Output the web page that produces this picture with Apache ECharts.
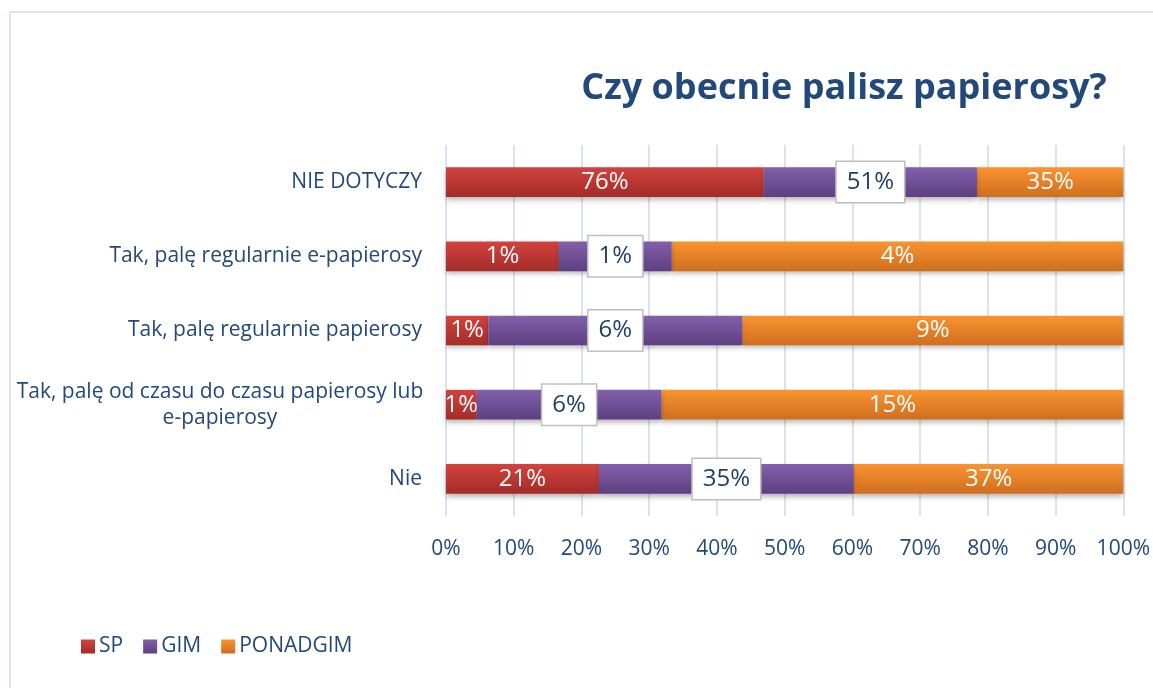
<!DOCTYPE html>
<html>
<head>
<meta charset="utf-8">
<script src="https://cdn.jsdelivr.net/npm/echarts@6/dist/echarts.min.js"></script>
<style>
  html, body { margin: 0; padding: 0; background: #fff; }
  #chart { width: 1153px; height: 688px; }
</style>
</head>
<body>
<div id="chart"></div>
<script>
// Answer categories, top to bottom
const categories = [
  'NIE DOTYCZY',
  'Tak, palę regularnie e-papierosy',
  'Tak, palę regularnie papierosy',
  'Tak, palę od czasu do czasu papierosy lub e-papierosy',
  'Nie'
];
// Percent of respondents per school level
const sp       = [76, 1, 1, 1, 21];
const gim      = [51, 1, 6, 6, 35];
const ponadgim = [35, 4, 9, 15, 37];
const seriesNames = ['SP', 'GIM', 'PONADGIM'];
const xTicks = [0, 10, 20, 30, 40, 50, 60, 70, 80, 90, 100];

const FONT = '"Open Sans", "Noto Sans", sans-serif';
const TEXT = '#22497A';

// Each row is drawn as a 100% stack of the three groups
const raw = [sp, gim, ponadgim];
const totals = categories.map((_, i) => sp[i] + gim[i] + ponadgim[i]);
const share = arr => arr.map((v, i) => v / totals[i] * 100);

function grad(top, bottom) {
  return new echarts.graphic.LinearGradient(0, 0, 0, 1, [
    { offset: 0, color: top },
    { offset: 1, color: bottom }
  ]);
}
const palette = [['#D3423E', '#A32C29'], ['#8260AC', '#5E3F80'], ['#FA9430', '#CF6E1F']];
const fills = palette.map(p => grad(p[0], p[1]));
const legendColors = palette.map(p => grad(p[0], p[1]));

const whiteLabel = {
  show: true,
  position: 'inside',
  color: '#fff',
  fontFamily: FONT,
  fontSize: 24
};
const boxedLabel = {
  show: true,
  position: 'inside',
  color: '#1F3F68',
  fontFamily: FONT,
  fontSize: 24,
  backgroundColor: '#fff',
  borderColor: '#BFBFBF',
  borderWidth: 1.5,
  padding: [8, 10, 8, 10]
};

const series = seriesNames.map((name, k) => ({
  name: name,
  type: 'bar',
  stack: 'all',
  barWidth: '40%',
  data: share(raw[k]),
  itemStyle: {
    color: fills[k],
    shadowColor: 'rgba(0,0,0,0.28)',
    shadowBlur: 5,
    shadowOffsetY: 3
  },
  label: Object.assign({}, k === 1 ? boxedLabel : whiteLabel, {
    formatter: p => raw[k][p.dataIndex] + '%'
  }),
  z: k === 1 ? 3 : 2
}));

const chart = echarts.init(document.getElementById('chart'), null, { renderer: 'canvas' });
chart.setOption({
  animation: false,
  backgroundColor: '#fff',
  graphic: [{
    type: 'rect',
    shape: { x: 10, y: 12, width: 1200, height: 720 },
    style: { fill: 'none', stroke: '#DAE5F2', lineWidth: 2 },
    silent: true,
    z: -10
  }],
  title: {
    text: 'Czy obecnie palisz papierosy?',
    left: 839,
    top: 66,
    textAlign: 'center',
    textStyle: { color: TEXT, fontFamily: FONT, fontWeight: 'bold', fontSize: 36 }
  },
  legend: {
    left: 81,
    top: 636,
    padding: 0,
    itemWidth: 14,
    itemHeight: 14,
    itemGap: 20,
    icon: 'rect',
    data: seriesNames.map((n, k) => ({ name: n, itemStyle: { color: legendColors[k] } })),
    textStyle: { color: TEXT, fontFamily: FONT, fontSize: 21, padding: [0, 0, 0, -1] }
  },
  grid: { left: 446, right: 26, top: 145, bottom: 172, containLabel: false },
  xAxis: {
    type: 'value',
    min: 0,
    max: 100,
    interval: 10,
    axisLine: { show: false },
    axisTick: { show: false },
    splitLine: { show: true, lineStyle: { color: '#D9E3F0', width: 2 } },
    axisLabel: {
      margin: 23,
      color: TEXT,
      fontFamily: FONT,
      fontSize: 21,
      formatter: v => xTicks.includes(v) ? v + '%' : ''
    }
  },
  yAxis: {
    type: 'category',
    inverse: true,
    data: categories,
    axisLine: { show: false },
    axisTick: { show: false },
    axisLabel: {
      margin: 24,
      color: TEXT,
      fontFamily: FONT,
      fontSize: 21,
      lineHeight: 26,
      formatter: v => {
        if (v.length > 40) {
          const cut = v.lastIndexOf(' ', 41);
          return '{c|' + v.slice(0, cut) + '}\n{c|' + v.slice(cut + 1) + '}';
        }
        return v;
      },
      rich: {
        c: { width: 404, align: 'center', color: TEXT, fontFamily: FONT, fontSize: 21, lineHeight: 26 }
      }
    }
  },
  series: series
});
</script>
</body>
</html>
